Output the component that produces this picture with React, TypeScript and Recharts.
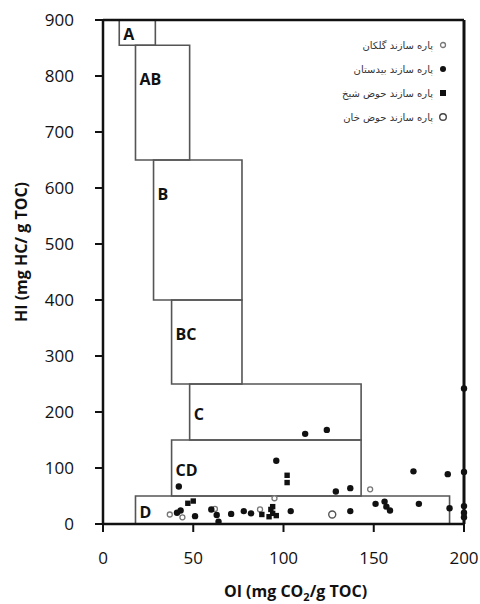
import React from "react"
import { ScatterChart, Scatter, XAxis, YAxis, ReferenceArea, ReferenceLine } from "recharts"

// axis ticks
const oiTicks = [0, 50, 100, 150, 200]
const hiTicks = [0, 100, 200, 300, 400, 500, 600, 700, 800, 900]

// facies boxes: name, OI range, HI range
const faciesNames = ["A", "AB", "B", "BC", "C", "CD", "D"]
const faciesOI = [[9, 29], [18, 48], [28, 77], [38, 77], [48, 143], [38, 143], [18, 192]]
const faciesHI = [[855, 900], [650, 855], [400, 650], [250, 400], [150, 250], [50, 150], [0, 50]]

// samples [OI, HI]
const golkan = [[37, 17], [44, 12], [62, 27], [87, 26], [95, 46], [148, 62]]
const bidestan = [
  [200, 242], [112, 161], [124, 168], [96, 113], [129, 58], [137, 64], [172, 94], [191, 89],
  [200, 93], [151, 36], [156, 40], [157, 31], [159, 24], [175, 36], [192, 28], [200, 32],
  [200, 20], [200, 12], [137, 23], [104, 23], [78, 23], [82, 19], [42, 67], [41, 20],
  [43, 24], [51, 14], [60, 26], [63, 16], [64, 4], [71, 18],
]
const hozSheikh = [[47, 37], [50, 41], [88, 17], [93, 26], [94, 19], [92, 13], [96, 15], [94, 31], [102, 87], [102, 74]]
const hozKhan = [[127, 17]]

const legendNames = ["پاره سازند گلکان", "پاره سازند بیدستان", "پاره سازند حوض شیخ", "پاره سازند حوض خان"]

const toPts = (arr: number[][]) => arr.map(([oi, hi]) => ({ oi, hi }))

const FONT = "'Open Sans', sans-serif"

const smallOpen = (p: any) => <circle cx={p.cx} cy={p.cy} r={2.5} fill="#fff" stroke="#777" strokeWidth={1.3} />
const dot = (p: any) => <circle cx={p.cx} cy={p.cy} r={3.2} fill="#111" />
const square = (p: any) => <rect x={p.cx - 2.7} y={p.cy - 2.7} width={5.4} height={5.4} fill="#111" />
const bigOpen = (p: any) => <circle cx={p.cx} cy={p.cy} r={3.5} fill="#fff" stroke="#555" strokeWidth={1.4} />

const legendMarkers = [
  <circle cx={5} cy={5} r={2.5} fill="#fff" stroke="#777" strokeWidth={1.3} />,
  <circle cx={5} cy={5} r={3} fill="#111" />,
  <rect x={2} y={2} width={6} height={6} fill="#111" />,
  <circle cx={5} cy={5} r={3.3} fill="#fff" stroke="#444" strokeWidth={1.4} />,
]

function BoxLabel({ viewBox, value }: any) {
  if (!viewBox) return null
  const dy = Math.min(34, viewBox.height / 2 + 2)
  return (
    <text x={viewBox.x + 4} y={viewBox.y + dy} dy="0.35em" fontFamily={FONT} fontWeight={700} fontSize={16} fill="#111">
      {value}
    </text>
  )
}

function YLabel({ viewBox }: any) {
  const cx = 21
  const cy = viewBox.y + viewBox.height / 2 - 20
  return (
    <text x={cx} y={cy} transform={`rotate(-90 ${cx} ${cy})`} textAnchor="middle" dy="0.35em"
      fontFamily={FONT} fontWeight={700} fontSize={16} fill="#111">
      HI (mg HC/ g TOC)
    </text>
  )
}

function XLabel({ viewBox }: any) {
  return (
    <text x={viewBox.x + viewBox.width / 2 + 12} y={597} textAnchor="middle"
      fontFamily={FONT} fontWeight={700} fontSize={16} fill="#111">
      OI (mg CO<tspan fontSize={11} dy={4}>2</tspan><tspan dy={-4}>/g TOC)</tspan>
    </text>
  )
}

export default function App() {
  return (
    <div style={{ position: "absolute", left: 0, top: 0, width: 480, height: 604, background: "#fff" }}>
      <ScatterChart width={480} height={604} margin={{ top: 20, right: 16, left: 0, bottom: 0 }}>
        <XAxis
          type="number"
          dataKey="oi"
          domain={[0, 200]}
          ticks={oiTicks}
          height={80}
          tickSize={8}
          tickMargin={20}
          axisLine={{ stroke: "#111", strokeWidth: 2.5 }}
          tickLine={{ stroke: "#111", strokeWidth: 2 }}
          tick={{ fontFamily: FONT, fontSize: 17, fill: "#111" }}
          label={<XLabel />}
        />
        <YAxis
          type="number"
          dataKey="hi"
          domain={[0, 900]}
          ticks={hiTicks}
          width={103}
          tickSize={8}
          tickMargin={21}
          axisLine={{ stroke: "#111", strokeWidth: 2.5 }}
          tickLine={{ stroke: "#111", strokeWidth: 2 }}
          tick={{ fontFamily: FONT, fontSize: 17, fill: "#111" }}
          label={<YLabel />}
        />
        <ReferenceLine y={900} stroke="#111" strokeWidth={2.5} />
        <ReferenceLine x={200} stroke="#111" strokeWidth={3} />
        {faciesNames.map((name, i) => (
          <ReferenceArea
            key={name}
            x1={faciesOI[i][0]}
            x2={faciesOI[i][1]}
            y1={faciesHI[i][0]}
            y2={faciesHI[i][1]}
            fill="none"
            stroke="#555"
            strokeWidth={1.6}
            label={<BoxLabel value={name} />}
          />
        ))}
        <Scatter data={toPts(golkan)} shape={smallOpen} isAnimationActive={false} />
        <Scatter data={toPts(bidestan)} shape={dot} isAnimationActive={false} />
        <Scatter data={toPts(hozSheikh)} shape={square} isAnimationActive={false} />
        <Scatter data={toPts(hozKhan)} shape={bigOpen} isAnimationActive={false} />
      </ScatterChart>
      <div style={{ position: "absolute", left: 300, top: 33, width: 148 }}>
        {legendNames.map((name, i) => (
          <div key={name} style={{ height: 24, display: "flex", alignItems: "center", justifyContent: "flex-end", gap: 5 }}>
            <span style={{ fontFamily: "'DejaVu Sans', sans-serif", fontSize: 10, color: "#333", direction: "rtl" }}>{name}</span>
            <svg width={10} height={10}>{legendMarkers[i]}</svg>
          </div>
        ))}
      </div>
    </div>
  )
}
